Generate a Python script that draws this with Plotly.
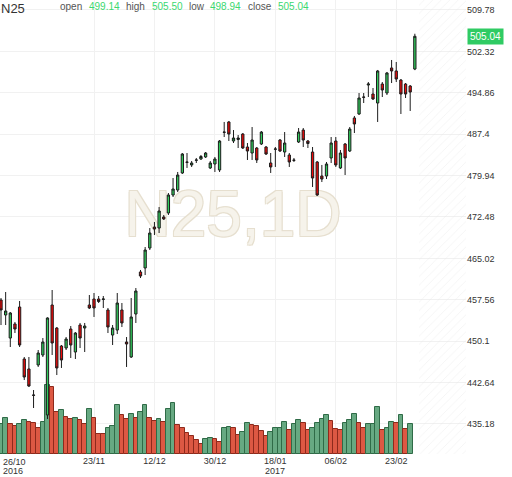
import pandas as pd
import plotly.graph_objects as go

symbol = "N25"
interval = "1D"

# trading sessions (26 Oct 2016 .. 1 Mar 2017, no session on 26 Dec)
dates = [d for d in pd.bdate_range("2016-10-26", "2017-03-01") if d != pd.Timestamp("2016-12-26")]

opens = [457.52, 454.82, 450.67, 453.20, 456.26, 446.89, 445.09, 440.40, 445.81, 447.61,
         436.80, 456.62, 452.47, 449.23, 448.87, 452.29, 448.15, 453.01, 452.47, 456.62,
         457.70, 457.70, 457.62, 455.72, 451.21, 452.11, 455.72, 449.95, 447.25, 455.00,
         462.57, 463.29, 466.89, 470.67, 470.49, 472.48, 473.20, 476.44, 477.34, 480.41,
         482.39, 481.85, 482.69, 482.93, 483.29, 481.31, 482.03, 480.95, 487.79, 489.60,
         486.17, 486.44, 487.43, 485.09, 484.01, 484.91, 485.63, 485.09, 482.21, 484.68,
         486.35, 484.19, 483.65, 482.75, 485.99, 488.15, 486.17, 484.19, 482.39, 479.86,
         479.86, 483.11, 486.17, 481.31, 485.63, 484.37, 490.32, 491.04, 494.10, 496.26,
         494.64, 493.02, 496.44, 494.82, 499.33, 498.79, 497.16, 496.44, 496.08, 499.14]

highs = [457.88, 458.96, 455.36, 453.56, 457.34, 447.25, 447.25, 441.30, 448.51, 450.67,
         454.40, 459.32, 452.65, 449.41, 450.85, 452.83, 451.75, 453.38, 453.38, 458.42,
         458.78, 458.24, 458.24, 456.08, 453.01, 458.78, 456.98, 450.85, 457.88, 459.68,
         462.93, 467.07, 470.49, 471.58, 474.28, 472.84, 476.80, 479.50, 480.59, 484.01,
         484.01, 482.57, 483.11, 483.65, 484.19, 482.57, 483.29, 486.35, 489.60, 489.78,
         488.15, 487.25, 487.61, 485.81, 488.69, 485.09, 487.97, 485.27, 484.01, 485.09,
         486.53, 487.79, 484.01, 483.11, 488.51, 488.51, 486.35, 485.09, 482.57, 481.85,
         482.39, 486.89, 486.89, 484.55, 485.81, 488.69, 490.68, 494.82, 494.82, 496.80,
         495.72, 498.97, 496.80, 498.61, 500.77, 500.41, 497.34, 496.62, 496.26, 505.50]

lows = [453.01, 453.01, 449.05, 451.57, 449.05, 443.10, 441.84, 438.06, 445.45, 447.25,
        436.08, 447.61, 444.00, 445.27, 448.51, 447.07, 446.89, 448.87, 448.15, 455.90,
        454.46, 456.98, 456.08, 451.57, 449.41, 451.39, 452.65, 445.45, 447.07, 453.38,
        461.48, 462.02, 466.53, 469.23, 469.59, 471.94, 472.84, 476.08, 476.98, 480.23,
        481.31, 481.49, 482.21, 482.75, 483.11, 481.13, 480.59, 480.59, 486.89, 486.17,
        485.81, 484.91, 484.73, 482.75, 482.75, 482.21, 485.45, 483.65, 480.41, 481.49,
        484.19, 483.29, 481.49, 482.39, 485.81, 485.09, 484.91, 477.88, 476.26, 478.78,
        479.32, 482.21, 481.49, 481.13, 480.04, 484.19, 487.61, 490.86, 493.02, 494.10,
        493.56, 489.60, 494.10, 494.46, 496.62, 496.80, 491.04, 493.92, 491.58, 498.94]

closes = [455.72, 455.54, 455.18, 452.29, 449.41, 443.64, 442.02, 440.35, 447.97, 449.95,
          454.28, 449.77, 445.27, 446.71, 450.49, 449.41, 451.57, 450.67, 452.83, 456.08,
          456.08, 457.25, 457.70, 452.65, 452.47, 456.98, 453.38, 449.59, 454.46, 459.14,
          461.84, 466.53, 469.59, 470.31, 473.56, 472.12, 476.44, 477.52, 480.04, 483.83,
          482.33, 482.21, 482.75, 483.38, 484.01, 482.21, 482.93, 486.17, 487.74, 487.43,
          486.71, 486.71, 484.91, 484.37, 486.35, 482.75, 487.79, 483.83, 481.49, 484.73,
          484.37, 485.81, 482.39, 482.69, 487.79, 486.35, 485.72, 479.50, 476.44, 479.32,
          482.03, 485.81, 481.85, 484.01, 483.11, 488.33, 489.24, 493.92, 494.05, 496.44,
          493.74, 498.79, 495.36, 498.43, 498.79, 497.34, 494.64, 494.64, 495.00, 505.04]

# volume (millions); latest session not reported yet
volumes = [3.0, 3.6, 3.0, 2.8, 3.0, 3.4, 3.2, 3.1, 2.6, 3.2,
           6.9, 6.7, 4.2, 4.4, 3.7, 3.5, 3.6, 3.4, 3.0, 4.5,
           3.6, 2.0, 2.0, 2.6, 2.8, 4.9, 3.9, 3.5, 4.0, 3.6,
           4.2, 4.9, 3.6, 3.3, 3.5, 3.2, 4.5, 5.1, 2.9, 2.6,
           2.1, 1.8, 1.4, 1.0, 1.5, 1.6, 1.5, 1.2, 2.6, 2.7,
           2.6, 1.9, 2.2, 3.1, 2.9, 2.8, 2.3, 1.8, 2.2, 2.6,
           2.6, 3.2, 2.4, 3.0, 3.4, 3.1, 2.4, 2.6, 3.1, 3.5,
           3.9, 3.3, 2.5, 2.4, 3.1, 3.4, 4.0, 3.1, 2.6, 3.0,
           3.0, 4.7, 2.4, 2.6, 3.2, 3.1, 3.9, 2.5, 3.0, None]

volume_up = [1, 1, 0, 0, 1, 1, 0, 0, 0, 1,
             1, 0, 0, 1, 0, 0, 1, 0, 0, 1,
             0, 0, 0, 1, 1, 1, 0, 0, 1, 0,
             1, 1, 0, 0, 1, 0, 1, 1, 0, 0,
             0, 0, 0, 0, 1, 1, 0, 0, 1, 1,
             0, 0, 1, 1, 0, 0, 0, 0, 1, 1,
             1, 1, 0, 1, 1, 0, 0, 1, 1, 1,
             1, 0, 0, 0, 1, 1, 1, 0, 0, 1,
             1, 1, 0, 1, 1, 0, 1, 0, 1, 1]

price_ticks = [435.18, 442.64, 450.10, 457.56, 465.02, 472.48, 479.94, 487.40, 494.86, 502.32, 509.78]
date_tick_idx = [0, 20, 33, 46, 59, 72, 85]

# ---------------------------------------------------------------
n = len(dates)
xs = list(range(n))
x_range = [-0.215, 100.0]
price_range = [429.77, 511.58]
vol_range = [0, 45.4]

GREEN = "#31cc5c"
RED = "#f00a0a"
TXT_GREEN = "#3bd870"
GRID = "#f1f1f1"
FONT = "Liberation Sans, Arial, sans-serif"
LABEL_FONT = dict(family=FONT, size=9, color="#333333")

day_text = [dates[i].strftime("%d/%m") for i in date_tick_idx]
# year shown under the first label and under the first label of a new year
year_marks = []
prev = None
for i in date_tick_idx:
    if prev is None or dates[prev].year != dates[i].year:
        year_marks.append((i, dates[i].strftime("%Y")))
    prev = i

fig = go.Figure()

# background decorations on the base subplot (drawn beneath the data)
fig.add_trace(go.Scatter(
    x=[n - 0.1, x_range[1], x_range[1], n - 0.1, n - 0.1], y=[0, 0, 1, 1, 0],
    mode="lines", fill="toself", fillcolor="rgba(255,255,255,0)",
    fillpattern=dict(shape="/", fgcolor="#e3e3e3", bgcolor="rgba(255,255,255,0)", size=6, solidity=0.12),
    line=dict(width=0, color="rgba(0,0,0,0)"), hoverinfo="skip", showlegend=False,
    xaxis="x", yaxis="y"))

fig.add_trace(go.Scatter(
    x=[(x_range[0] + x_range[1]) / 2], y=[0.515], mode="text",
    text=[f"{symbol},{interval}"],
    textfont=dict(family=FONT, size=64, color="#f6f3eb",
                  shadow="-1px -1px 0 #e6dfcf, 1px -1px 0 #e6dfcf, -1px 1px 0 #e6dfcf, 1px 1px 0 #e6dfcf"),
    hoverinfo="skip", showlegend=False, xaxis="x", yaxis="y"))

# volume
fig.add_trace(go.Bar(
    x=xs, y=volumes, width=1.0,
    marker=dict(color=["#67a982" if u else "#dd5843" for u in volume_up],
                line=dict(color=["#2f6b47" if u else "#8e2a1c" for u in volume_up], width=1)),
    hoverinfo="skip", showlegend=False, xaxis="x", yaxis="y2"))

# candles
fig.add_trace(go.Candlestick(
    x=xs, open=opens, high=highs, low=lows, close=closes,
    increasing=dict(fillcolor=GREEN, line=dict(color="#1c1c1c", width=1)),
    decreasing=dict(fillcolor=RED, line=dict(color="#1c1c1c", width=1)),
    whiskerwidth=0, showlegend=False, xaxis="x", yaxis="y3"))

PLOT_W = 466
PLOT_H = 454

annotations = []
# header
hdr = [("N25", 0, 13, "#333333"), ("open", 59, 10, "#555555"), (f"{opens[-1]:.2f}", 88, 10, TXT_GREEN),
       ("high", 125, 10, "#555555"), (f"{highs[-1]:.2f}", 151, 10, TXT_GREEN),
       ("low", 188, 10, "#555555"), (f"{lows[-1]:.2f}", 209, 10, TXT_GREEN),
       ("close", 247, 10, "#555555"), (f"{closes[-1]:.2f}", 277, 10, TXT_GREEN)]
for txt, px, fs, col in hdr:
    annotations.append(dict(text=txt, xref="paper", yref="paper", x=px / PLOT_W, y=1,
                            xanchor="left", yanchor="top", showarrow=False, borderpad=0,
                            font=dict(family=FONT, size=fs, color=col)))
# last price tag
annotations.append(dict(text=f"{closes[-1]:.2f}", xref="paper", yref="y3", x=1, y=closes[-1],
                        xanchor="left", yanchor="middle", xshift=1, showarrow=False,
                        bgcolor="#2fcb63", borderpad=2,
                        font=dict(family=FONT, size=10, color="white")))
# first date label (left-aligned at the chart edge)
annotations.append(dict(text=day_text[0], xref="x", yref="paper", x=date_tick_idx[0], y=0,
                        xanchor="left", yanchor="top", yshift=-1, showarrow=False, font=LABEL_FONT))
# year lines
for i, yr in year_marks:
    annotations.append(dict(text=yr, xref="x", yref="paper", x=i, y=0,
                            xanchor="left" if i == date_tick_idx[0] else "center",
                            yanchor="top", yshift=-10, showarrow=False, font=LABEL_FONT))

fig.update_layout(
    width=512, height=477,
    margin=dict(l=0, r=512 - PLOT_W, t=0, b=477 - PLOT_H),
    paper_bgcolor="white", plot_bgcolor="white",
    showlegend=False, bargap=0,
    font=LABEL_FONT,
    xaxis=dict(range=x_range, domain=[0, 1], tickvals=date_tick_idx[1:], ticktext=day_text[1:],
               showgrid=True, gridcolor=GRID, gridwidth=1, zeroline=False, showline=False,
               ticks="", tickfont=LABEL_FONT, rangeslider=dict(visible=False),
               fixedrange=True, automargin=False),
    yaxis=dict(range=[0, 1], visible=False, fixedrange=True),
    yaxis2=dict(range=vol_range, overlaying="y", visible=False, fixedrange=True),
    yaxis3=dict(range=price_range, overlaying="y", side="right", tickvals=price_ticks,
                ticktext=[f"{v:g}" for v in price_ticks], showgrid=True, gridcolor=GRID,
                zeroline=False, showline=False, ticks="", tickfont=LABEL_FONT,
                fixedrange=True, automargin=False),
    annotations=annotations,
)

# the page's default 8px body margin would offset the 512x477 figure inside the window
fig.write_html("out.html", config={"displayModeBar": False},
               post_script="document.body.style.margin='0';document.body.style.overflow='hidden';")
